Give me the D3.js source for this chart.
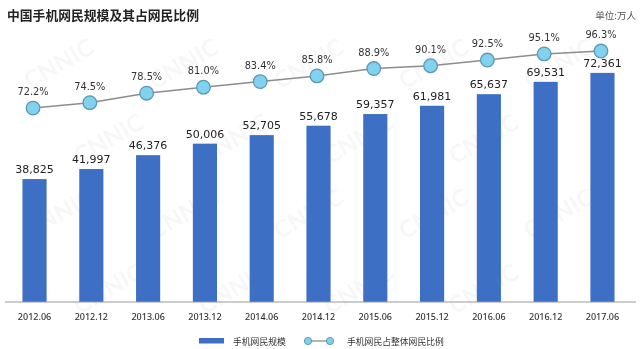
<!DOCTYPE html>
<html>
<head>
<meta charset="utf-8">
<script src="https://cdn.jsdelivr.net/npm/d3@7"></script>
<style>
  html, body { margin: 0; padding: 0; background: #fff; }
  svg { display: block; }
</style>
</head>
<body>
<svg id="chart" width="640" height="349"></svg>
<script>
// Survey periods
const periods = ["2012.06", "2012.12", "2013.06", "2013.12", "2014.06", "2014.12",
                 "2015.06", "2015.12", "2016.06", "2016.12", "2017.06"];
// Mobile internet users (10k people)
const mobileUsers = [38825, 41997, 46376, 50006, 52705, 55678, 59357, 61981, 65637, 69531, 72361];
// Share of all internet users (%)
const mobileShare = [72.2, 74.5, 78.5, 81.0, 83.4, 85.8, 88.9, 90.1, 92.5, 95.1, 96.3];

const legendLabels = ["手机网民规模", "手机网民占整体网民比例"];

const svg = d3.select("#chart");

const barColor = "#3d6fc4";
const dotFill = "#80d2ef";
const dotStroke = "#5d98b5";
const lineColor = "#8c8c8c";

// faint background watermark, kept inside the frame
const wm = svg.append("g").attr("fill", "#000").attr("opacity", 0.035)
  .attr("font-family", "Lato, 'DejaVu Sans', sans-serif")
  .attr("font-weight", "bold").attr("font-size", 24);
for (let r = 0; r < 4; r++) {
  for (let c = 0; c < 5; c++) {
    const px = 30 + c * 125 + (r % 2) * 50;
    const py = 90 + r * 75;
    if (px + 75 > 635 || py > 320) continue;
    wm.append("text").attr("transform", `translate(${px},${py}) rotate(-30)`).text("CNNIC");
  }
}

const x = d3.scaleBand().domain(periods).range([6, 631]).paddingInner(0.575).paddingOuter(0.29);
const yBar = d3.scaleLinear().domain([0, 95000]).range([302, 1.2]);
const yLine = d3.scaleLinear().domain([0, 100]).range([279, 42.3]);

// bars
svg.append("g").selectAll("rect").data(mobileUsers).join("rect")
  .attr("x", (d, i) => x(periods[i]))
  .attr("width", x.bandwidth())
  .attr("y", d => yBar(d))
  .attr("height", d => yBar(0) - yBar(d))
  .attr("fill", barColor);

// bar value labels
svg.append("g").selectAll("text").data(mobileUsers).join("text")
  .attr("x", (d, i) => x(periods[i]) + x.bandwidth() / 2)
  .attr("y", d => yBar(d) - 6)
  .attr("text-anchor", "middle")
  .attr("font-family", "'DejaVu Sans', sans-serif")
  .attr("font-size", 11)
  .attr("fill", "#222")
  .text(d => d3.format(",")(d));

// x axis
const xAxis = svg.append("g").attr("transform", `translate(0,${yBar(0)})`)
  .call(d3.axisBottom(x).tickSize(0).tickPadding(12));
xAxis.select(".domain").attr("d", "M5,0H636").attr("stroke", "#9a9a9a").attr("stroke-width", 1.2);
xAxis.selectAll("text")
  .attr("font-family", "'Noto Sans', sans-serif")
  .attr("font-size", 9).attr("font-weight", 500).attr("fill", "#333");

// share line
const cx = (d, i) => x(periods[i]) + x.bandwidth() / 2 - 1.5;
svg.append("path").datum(mobileShare)
  .attr("fill", "none").attr("stroke", lineColor).attr("stroke-width", 1.5)
  .attr("d", d3.line().x(cx).y(d => yLine(d)));

svg.append("g").selectAll("circle").data(mobileShare).join("circle")
  .attr("cx", cx).attr("cy", d => yLine(d)).attr("r", 6.8)
  .attr("fill", dotFill).attr("stroke", dotStroke).attr("stroke-width", 1.3);

svg.append("g").selectAll("text").data(mobileShare).join("text")
  .attr("x", cx).attr("y", d => yLine(d) - 13)
  .attr("text-anchor", "middle")
  .attr("font-family", "'DejaVu Sans', sans-serif")
  .attr("font-size", 9.8).attr("fill", "#333")
  .text(d => d.toFixed(1) + "%");

// title and unit
svg.append("text").attr("x", 7).attr("y", 20)
  .attr("font-family", "'Noto Sans CJK SC', sans-serif")
  .attr("font-weight", "bold").attr("font-size", 12.8).attr("fill", "#222")
  .text("中国手机网民规模及其占网民比例");
svg.append("text").attr("x", 636).attr("y", 19).attr("text-anchor", "end")
  .attr("font-family", "'Noto Sans CJK SC', sans-serif")
  .attr("font-size", 9.5).attr("fill", "#555")
  .text("单位:万人");

// legend
const lg = svg.append("g");
lg.append("rect").attr("x", 199).attr("y", 338).attr("width", 25).attr("height", 5.5).attr("fill", barColor);
lg.append("text").attr("x", 233).attr("y", 344.5)
  .attr("font-family", "'Noto Sans CJK SC', sans-serif").attr("font-size", 8.8).attr("fill", "#333")
  .text(legendLabels[0]);
lg.append("line").attr("x1", 308).attr("x2", 330).attr("y1", 341).attr("y2", 341)
  .attr("stroke", lineColor).attr("stroke-width", 1.3);
[308, 330].forEach(px => lg.append("circle").attr("cx", px).attr("cy", 341).attr("r", 3.6)
  .attr("fill", dotFill).attr("stroke", dotStroke).attr("stroke-width", 1));
lg.append("text").attr("x", 347).attr("y", 344.5)
  .attr("font-family", "'Noto Sans CJK SC', sans-serif").attr("font-size", 8.8).attr("fill", "#333")
  .text(legendLabels[1]);
</script>
</body>
</html>
